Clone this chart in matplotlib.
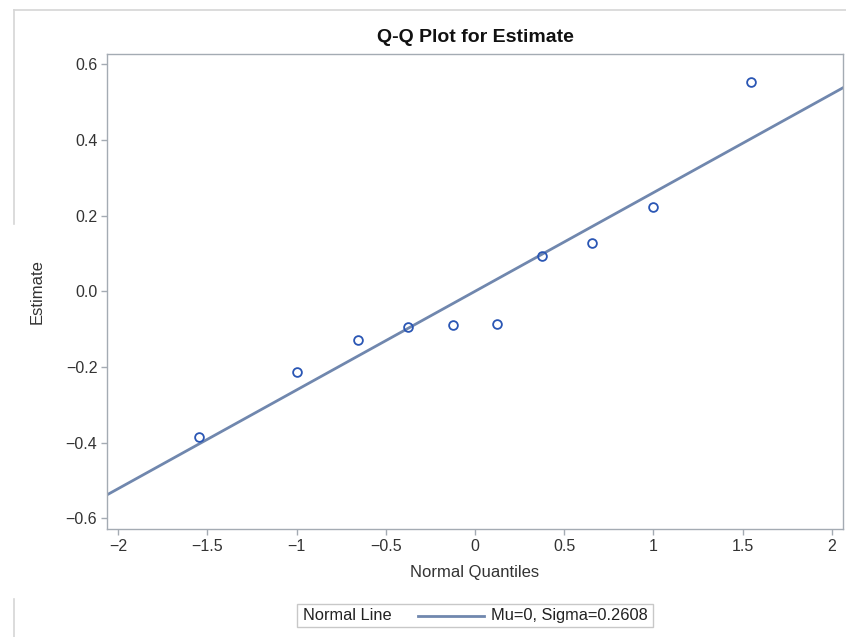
import matplotlib.pyplot as plt
from matplotlib.lines import Line2D
from matplotlib.patches import Rectangle
from matplotlib.ticker import FuncFormatter
import numpy as np

# ---- data ----
normal_quantiles = [-1.547, -1.000, -0.655, -0.375, -0.123, 0.123, 0.375, 0.655, 1.000, 1.547]
estimates = [-0.384, -0.214, -0.129, -0.093, -0.090, -0.087, 0.093, 0.127, 0.222, 0.553]
mu = 0.0
sigma = 0.2608
x_ticks = [-2, -1.5, -1, -0.5, 0, 0.5, 1, 1.5, 2]
y_ticks = [-0.6, -0.4, -0.2, 0.0, 0.2, 0.4, 0.6]

# ---- style ----
FONT = 'Liberation Sans'
MARKER_COLOR = '#2A56B4'
LINE_COLOR = '#7087AE'
FRAME_COLOR = '#A4ABB3'
TEXT_COLOR = '#333333'
plt.rcParams['font.family'] = [FONT, 'DejaVu Sans']

W, H = 846, 637
fig = plt.figure(figsize=(W / 100, H / 100), dpi=100)
ax = fig.add_axes([107 / W, 1 - 529 / H, 736 / W, 475 / H])

xlim = (-2.062, 2.062)
ax.set_xlim(*xlim)
ax.set_ylim(-0.628, 0.627)

# normal reference line, spans the whole axis
xl = np.array(xlim)
ax.plot(xl, mu + sigma * xl, color=LINE_COLOR, lw=2.0, zorder=2)

ax.plot(normal_quantiles, estimates, linestyle='none', marker='o', ms=6.3,
        mfc='none', mec=MARKER_COLOR, mew=1.3, zorder=3)

ax.set_xticks(x_ticks)
ax.set_yticks(y_ticks)
ax.xaxis.set_major_formatter(FuncFormatter(lambda v, p: ('%g' % v).replace('-', '\u2212')))
ax.yaxis.set_major_formatter(FuncFormatter(lambda v, p: ('%.1f' % v).replace('-', '\u2212')))
ax.tick_params(direction='out', length=4, width=1, color=FRAME_COLOR,
               labelsize=11.5, labelcolor=TEXT_COLOR, pad=3)
for sp in ax.spines.values():
    sp.set_color(FRAME_COLOR)
    sp.set_linewidth(1.0)

ax.set_xlabel('Normal Quantiles', fontsize=12, color=TEXT_COLOR, labelpad=8)
ax.set_ylabel('Estimate', fontsize=12, color=TEXT_COLOR, labelpad=15)
ax.set_title('Q-Q Plot for Estimate', fontsize=14, fontweight='bold', color='#111111', pad=9)

# ---- legend box at the bottom ----
def fx(px):
    return px / W

def fy(py):
    return 1 - py / H

fig.add_artist(Rectangle((fx(297), fy(627)), fx(653) - fx(297), fy(604) - fy(627),
                         transform=fig.transFigure, fill=False,
                         edgecolor='#C8C8C8', lw=1.0))
fig.text(fx(303), fy(620), 'Normal Line', fontsize=11.8, color='#222222', va='baseline')
fig.add_artist(Line2D([fx(418), fx(484)], [fy(615.5), fy(615.5)],
                      transform=fig.transFigure, color=LINE_COLOR, lw=2.0))
fig.text(fx(491), fy(620), 'Mu=0, Sigma=0.2608', fontsize=11.8, color='#222222', va='baseline')

# ---- light frame lines of the output page ----
frame_kw = dict(transform=fig.transFigure, color='#D6D6D6', lw=1.2)
fig.add_artist(Line2D([fx(14), fx(846)], [fy(9.5), fy(9.5)], **frame_kw))
fig.add_artist(Line2D([fx(14), fx(14)], [fy(9.5), fy(224)], **frame_kw))
fig.add_artist(Line2D([fx(14), fx(14)], [fy(599), fy(637)], **frame_kw))

fig.savefig('out.png', dpi=100, facecolor='white')
